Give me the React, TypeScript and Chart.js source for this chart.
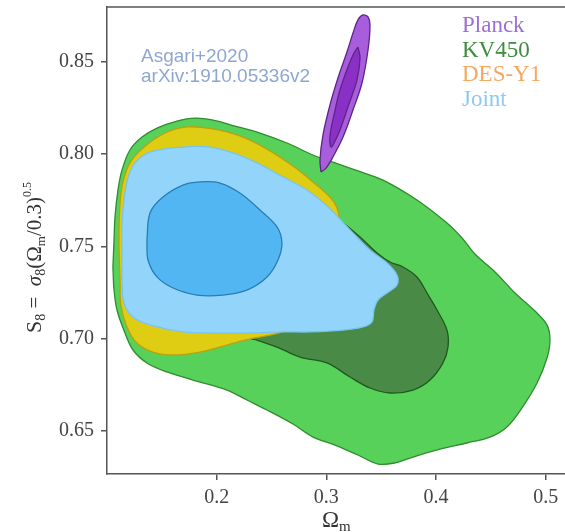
import React, { useEffect, useRef } from "react";
import { Chart, registerables } from "chart.js";

Chart.register(...registerables);

// Axis ranges and tick values
const OMEGA_M_RANGE = [0.1, 0.5176];
const S8_RANGE = [0.6267, 0.8798];
const OMEGA_M_TICKS = [0.2, 0.3, 0.4, 0.5];
const S8_TICKS = [0.65, 0.7, 0.75, 0.8, 0.85];

// Credible-region outlines, [Omega_m, S8] pairs
const KV450_95: [number, number][] = [
  [0.1054, 0.7389], [0.1064, 0.7535], [0.1073, 0.766], [0.11, 0.7806], [0.1137, 0.7915],
  [0.1209, 0.8023], [0.1319, 0.8093], [0.1456, 0.8142], [0.1638, 0.818], [0.1802, 0.8196],
  [0.1957, 0.8186], [0.2167, 0.8153], [0.2395, 0.8115], [0.2641, 0.8061], [0.2878, 0.7996],
  [0.3079, 0.7953], [0.3261, 0.7915], [0.3516, 0.786], [0.3826, 0.7752], [0.41, 0.7627],
  [0.4237, 0.7546], [0.4355, 0.7459], [0.4538, 0.7362], [0.472, 0.7248], [0.4902, 0.715],
  [0.5012, 0.7075], [0.5039, 0.6993], [0.5012, 0.6896], [0.4921, 0.676], [0.4784, 0.6625],
  [0.4647, 0.6522], [0.4492, 0.6467], [0.4282, 0.6435], [0.4036, 0.6402], [0.379, 0.6359],
  [0.3626, 0.6327], [0.3471, 0.6321], [0.3288, 0.637], [0.3079, 0.6424], [0.2878, 0.6467],
  [0.2696, 0.6538], [0.2459, 0.6614], [0.2276, 0.6668], [0.2094, 0.6722], [0.1784, 0.6776],
  [0.1547, 0.682], [0.1364, 0.6869], [0.1237, 0.6939], [0.1164, 0.7031], [0.1091, 0.7156],
  [0.1064, 0.7264],
];

const KV450_68: [number, number][] = [
  [0.3124, 0.7644], [0.3307, 0.7551], [0.3462, 0.7465], [0.358, 0.7416], [0.3699, 0.7389],
  [0.3826, 0.7335], [0.3918, 0.7248], [0.4009, 0.7156], [0.41, 0.7047], [0.4109, 0.6955],
  [0.4063, 0.6869], [0.3945, 0.6776], [0.379, 0.6722], [0.358, 0.6706], [0.3398, 0.6733],
  [0.3215, 0.6793], [0.3006, 0.6869], [0.276, 0.6901], [0.255, 0.6955], [0.2367, 0.6993],
  [0.2304, 0.7009], [0.2413, 0.7112], [0.2668, 0.7291], [0.2942, 0.7535],
];

const DESY1_95: [number, number][] = [
  [0.1118, 0.7318], [0.1109, 0.7535], [0.1118, 0.7725], [0.1146, 0.785], [0.1209, 0.7953],
  [0.1328, 0.8034], [0.1529, 0.8115], [0.1729, 0.8148], [0.1966, 0.8137], [0.2212, 0.8099],
  [0.2459, 0.8028], [0.2696, 0.7936], [0.2878, 0.785], [0.3033, 0.7768], [0.3097, 0.7709],
  [0.3115, 0.7638], [0.3033, 0.7427], [0.276, 0.7102], [0.2595, 0.7037], [0.2304, 0.6999],
  [0.2094, 0.6966], [0.1848, 0.6928], [0.1602, 0.6912], [0.1419, 0.6928], [0.1273, 0.6977],
  [0.1182, 0.7064], [0.1127, 0.7183],
];

const JOINT_95: [number, number][] = [
  [0.1136, 0.7318], [0.1136, 0.7481], [0.1136, 0.7617], [0.1155, 0.7752], [0.1191, 0.7871],
  [0.1255, 0.7953], [0.1392, 0.8012], [0.1693, 0.8039], [0.1939, 0.8039], [0.2149, 0.8007],
  [0.2367, 0.7953], [0.2605, 0.7877], [0.2823, 0.7806], [0.3006, 0.772], [0.3124, 0.7649],
  [0.3234, 0.7579], [0.3398, 0.7481], [0.3553, 0.7411], [0.3644, 0.7346], [0.3644, 0.7291],
  [0.3553, 0.7248], [0.3471, 0.721], [0.3434, 0.7156], [0.3416, 0.7091], [0.3334, 0.7064],
  [0.3152, 0.7047], [0.2851, 0.7037], [0.2605, 0.7037], [0.2304, 0.7031], [0.2003, 0.7031],
  [0.1693, 0.7037], [0.1392, 0.7075], [0.1237, 0.7118], [0.1155, 0.7194],
];

const JOINT_68: [number, number][] = [
  [0.1364, 0.7535], [0.1392, 0.7682], [0.151, 0.7768], [0.1693, 0.7833], [0.1848, 0.785],
  [0.203, 0.7844], [0.2212, 0.779], [0.2395, 0.7698], [0.255, 0.7606], [0.2595, 0.7519],
  [0.2559, 0.7427], [0.2459, 0.7335], [0.2276, 0.7264], [0.2057, 0.7237], [0.182, 0.7237],
  [0.1602, 0.7275], [0.1456, 0.7335], [0.1374, 0.7427],
];

const PLANCK_95: [number, number][] = [
  [0.2951, 0.7904], [0.2942, 0.7969], [0.2969, 0.8104], [0.3033, 0.8267], [0.3106, 0.8413],
  [0.3188, 0.8554], [0.3243, 0.8657], [0.3288, 0.8728], [0.3334, 0.8755], [0.338, 0.8744],
  [0.3398, 0.8701], [0.338, 0.8565], [0.3325, 0.8386], [0.3243, 0.824], [0.3152, 0.8093],
  [0.306, 0.7985], [0.2997, 0.7925],
];

const PLANCK_68: [number, number][] = [
  [0.3288, 0.8581], [0.3307, 0.8522], [0.3279, 0.8402], [0.3206, 0.8272], [0.3124, 0.8131],
  [0.307, 0.8061], [0.3042, 0.8039], [0.3033, 0.8099], [0.307, 0.8213], [0.3124, 0.8348],
  [0.3197, 0.8473], [0.3252, 0.8549],
];

const LEGEND_LABELS = ["Planck", "KV450", "DES-Y1", "Joint"];
const LEGEND_COLORS = ["#9d6fd6", "#3e8c3e", "#f5a862", "#8ccaf2"];
const NOTE_LINES = ["Asgari+2020", "arXiv:1910.05336v2"];

const SERIF = "'Liberation Serif', 'DejaVu Serif', serif";
const SANS = "'Liberation Sans', Arial, sans-serif";

function region(
  pts: [number, number][],
  fillColor: string,
  lineColor: string,
  order: number
) {
  const data = pts.map(([x, y]) => ({ x, y }));
  data.push({ ...data[0] });
  return {
    data,
    showLine: true,
    fill: "shape",
    backgroundColor: fillColor,
    borderColor: lineColor,
    borderWidth: 1.3,
    pointRadius: 0,
    pointHoverRadius: 0,
    tension: 0.35,
    order,
  };
}

// Text pieces with baseline shifts for the axis titles
type Piece = { t: string; size: number; dy: number; italic?: boolean };

function drawPieces(ctx: CanvasRenderingContext2D, pieces: Piece[]) {
  let x = 0;
  for (const p of pieces) {
    ctx.font = `${p.italic ? "italic " : ""}${p.size}px ${SERIF}`;
    ctx.fillText(p.t, x, p.dy);
    x += ctx.measureText(p.t).width;
  }
}

const decorations = {
  id: "decorations",
  afterDraw(chart: Chart) {
    const ctx = chart.ctx;
    const area = chart.chartArea;
    ctx.save();

    // frame line along the top of the plot
    ctx.strokeStyle = "#555";
    ctx.lineWidth = 1.5;
    ctx.beginPath();
    ctx.moveTo(area.left, area.top);
    ctx.lineTo(area.right, area.top);
    ctx.stroke();

    // legend labels
    ctx.textBaseline = "alphabetic";
    ctx.textAlign = "left";
    ctx.font = `23px ${SERIF}`;
    LEGEND_LABELS.forEach((label, i) => {
      ctx.fillStyle = LEGEND_COLORS[i];
      ctx.fillText(label, 462, 32 + i * 24.5);
    });

    // reference note
    ctx.font = `19px ${SANS}`;
    ctx.fillStyle = "#8ea7d2";
    NOTE_LINES.forEach((line, i) => ctx.fillText(line, 141, 62 + i * 20));

    // x-axis title
    ctx.fillStyle = "#333";
    ctx.save();
    ctx.translate(322, 527);
    drawPieces(ctx, [
      { t: "Ω", size: 23, dy: 0 },
      { t: "m", size: 15, dy: 4 },
    ]);
    ctx.restore();

    // y-axis title
    ctx.save();
    ctx.translate(41, 333);
    ctx.rotate(-Math.PI / 2);
    drawPieces(ctx, [
      { t: "S", size: 22, dy: 0 },
      { t: "8", size: 14, dy: 4 },
      { t: " =  ", size: 21, dy: 0 },
      { t: "σ", size: 21, dy: 0, italic: true },
      { t: "8", size: 14, dy: 4 },
      { t: "(Ω", size: 21, dy: 0 },
      { t: "m", size: 13, dy: 4 },
      { t: "/0.3)", size: 21, dy: 0 },
      { t: "0.5", size: 12, dy: -10 },
    ]);
    ctx.restore();

    ctx.restore();
  },
};

export default function App() {
  const canvasRef = useRef<HTMLCanvasElement | null>(null);

  useEffect(() => {
    const canvas = canvasRef.current;
    if (!canvas) return;

    const tickFont = { family: SERIF, size: 20 };
    const axisGrid = {
      drawOnChartArea: false,
      drawTicks: true,
      tickLength: 6,
      color: "#555",
      lineWidth: 1.5,
    };
    const axisBorder = { display: true, color: "#555", width: 1.5 };

    const chart = new Chart(canvas, {
      type: "scatter",
      data: {
        datasets: [
          region(PLANCK_68, "#8a30c6", "#5c2686", 1),
          region(PLANCK_95, "#a85ddc", "#5c2686", 2),
          region(JOINT_68, "#52b6f3", "#2b7cb3", 3),
          region(JOINT_95, "#93d5fa", "#79c4ee", 4),
          region(DESY1_95, "#dfcd14", "#b8a20e", 5),
          region(KV450_68, "#4a8a47", "#1d5a1d", 6),
          region(KV450_95, "#57d159", "#2f8c2f", 7),
        ] as any,
      },
      options: {
        animation: false,
        responsive: false,
        devicePixelRatio: 1,
        layout: { autoPadding: false, padding: { top: 7, right: 0, bottom: 0, left: 0 } },
        events: [],
        plugins: {
          legend: { display: false },
          tooltip: { enabled: false },
        },
        scales: {
          x: {
            type: "linear",
            min: OMEGA_M_RANGE[0],
            max: OMEGA_M_RANGE[1],
            afterBuildTicks: (s: any) => {
              s.ticks = OMEGA_M_TICKS.map((value) => ({ value }));
            },
            afterFit: (s: any) => {
              s.height = 58;
              s.paddingLeft = 0;
              s.paddingRight = 0;
            },
            grid: axisGrid,
            border: axisBorder,
            ticks: {
              font: tickFont,
              color: "#444",
              padding: 6,
              maxRotation: 0,
              callback: (v: any) => Number(v).toFixed(1),
            },
          },
          y: {
            type: "linear",
            min: S8_RANGE[0],
            max: S8_RANGE[1],
            afterBuildTicks: (s: any) => {
              s.ticks = S8_TICKS.map((value) => ({ value }));
            },
            afterFit: (s: any) => {
              s.width = 107;
              s.paddingTop = 0;
              s.paddingBottom = 0;
            },
            grid: axisGrid,
            border: axisBorder,
            ticks: {
              font: tickFont,
              color: "#444",
              padding: 7,
              callback: (v: any) => Number(v).toFixed(2),
            },
          },
        },
      } as any,
      plugins: [decorations],
    });

    return () => chart.destroy();
  }, []);

  return (
    <div style={{ position: "absolute", left: 0, top: 0, width: 565, height: 532, background: "#fff" }}>
      <canvas ref={canvasRef} width={565} height={532} style={{ display: "block" }} />
    </div>
  );
}
